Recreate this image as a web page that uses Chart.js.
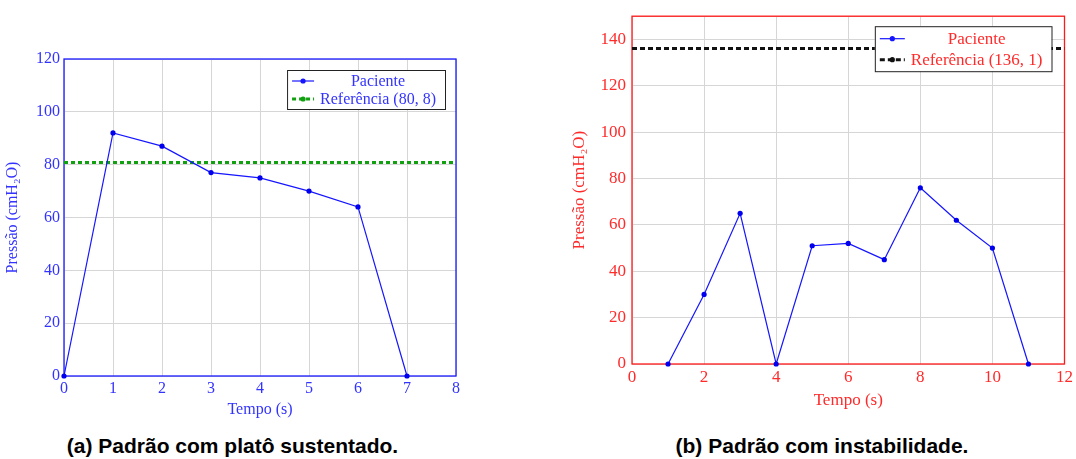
<!DOCTYPE html>
<html>
<head>
<meta charset="utf-8">
<script src="https://cdn.jsdelivr.net/npm/chart.js@4"></script>
<style>
  body { margin: 0; background: #fff; width: 1076px; height: 459px; position: relative; overflow: hidden; }
  .box { position: absolute; top: 0; }
  .cap { position: absolute; top: 434px; height: 24px; line-height: 24px; text-align: center;
         font: bold 21px "Liberation Sans", Arial, sans-serif; color: #000; }
</style>
</head>
<body>
<div class="box" style="left:0"><canvas id="chartA" width="475" height="430"></canvas></div>
<div class="box" style="left:560px"><canvas id="chartB" width="516" height="430"></canvas></div>
<div class="cap" style="left:0;width:465px">(a) Padrão com platô sustentado.</div>
<div class="cap" style="left:562px;width:520px">(b) Padrão com instabilidade.</div>
<script>
// (a) platô sustentado
const tempoA = [0, 1, 2, 3, 4, 5, 6, 7];
const pressaoA = [0, 92, 87, 77, 75, 70, 64, 0];
const refA = 80.8;
const refLabelA = 'Referência (80, 8)';
const eixoXA = [0, 8];     // min, max
const eixoYA = [0, 120];

// (b) instabilidade
const tempoB = [1, 2, 3, 4, 5, 6, 7, 8, 9, 10, 11];
const pressaoB = [0, 30, 65, 0, 51, 52, 45, 76, 62, 50, 0];
const refB = 136.1;
const refLabelB = 'Referência (136, 1)';
const eixoXB = [0, 12];
const eixoYB = [0, 150];

const serieLabel = 'Paciente';
const tituloX = 'Tempo (s)';
const tituloY = 'Pressão (cmH₂O)';

const SERIF = '"Liberation Serif", "Times New Roman", serif';

// moldura completa em volta da área do gráfico (como no pgfplots)
const framePlugin = {
  id: 'frame',
  beforeDatasetsDraw(chart, args, opts) {
    const a = chart.chartArea, ctx = chart.ctx;
    ctx.save();
    ctx.strokeStyle = opts.color;
    ctx.lineWidth = 1.3;
    ctx.strokeRect(a.left, a.top, a.right - a.left, a.bottom - a.top);
    ctx.restore();
  }
};

// legenda em caixa branca no canto superior direito
const boxLegendPlugin = {
  id: 'boxLegend',
  afterDatasetsDraw(chart, args, o) {
    const ctx = chart.ctx, a = chart.chartArea;
    const ds = chart.data.datasets;
    ctx.save();
    ctx.font = o.fontSize + 'px ' + SERIF;
    const textW = Math.max(...ds.map(d => ctx.measureText(d.label).width));
    const sample = o.sample;
    const w = 5 + sample + o.gap + textW + 9;
    const h = ds.length * o.rowH + 3;
    const x = a.right - o.right - w, y = a.top + o.top;
    ctx.fillStyle = '#fff';
    ctx.fillRect(x, y, w, h);
    ctx.strokeStyle = '#222';
    ctx.lineWidth = 1;
    ctx.strokeRect(x + 0.5, y + 0.5, w, h);
    ds.forEach((d, i) => {
      const cy = y + 2 + o.rowH * (i + 0.5);
      ctx.strokeStyle = d.borderColor;
      ctx.lineWidth = d.borderWidth;
      ctx.setLineDash(d.borderDash || []);
      ctx.beginPath();
      ctx.moveTo(x + 5, cy);
      ctx.lineTo(x + 5 + sample, cy);
      ctx.stroke();
      ctx.setLineDash([]);
      ctx.fillStyle = d.borderColor;
      ctx.beginPath();
      ctx.arc(x + 5 + sample / 2, cy, 2.6, 0, Math.PI * 2);
      ctx.fill();
      const tx0 = x + 5 + sample + o.gap, tx1 = x + w - 9;
      ctx.fillStyle = o.color;
      ctx.textAlign = 'center';
      ctx.textBaseline = 'middle';
      ctx.fillText(d.label, (tx0 + tx1) / 2, cy + 1);
    });
    ctx.restore();
  }
};

function makeChart(id, cfg) {
  const pts = cfg.x.map((x, i) => ({ x, y: cfg.y[i] }));
  const refPts = [{ x: cfg.xr[0], y: cfg.ref }, { x: cfg.xr[1], y: cfg.ref }];
  const font = { family: SERIF, size: cfg.fs };
  return new Chart(document.getElementById(id), {
    type: 'line',
    data: {
      datasets: [
        {
          label: serieLabel, data: pts,
          borderColor: '#1515ff', backgroundColor: '#0000ee',
          borderWidth: 1.2, pointRadius: 2.6, pointBorderWidth: 0, tension: 0,
          clip: false,
        },
        {
          label: cfg.refLabel, data: refPts,
          borderColor: cfg.refColor, borderWidth: 3, borderDash: cfg.dash,
          pointRadius: 0, fill: false,
        },
      ],
    },
    options: {
      responsive: false,
      animation: false,
      devicePixelRatio: 1,
      layout: { padding: cfg.pad },
      plugins: {
        legend: { display: false },
        tooltip: { enabled: false },
        frame: { color: cfg.frame },
        boxLegend: cfg.legend,
      },
      scales: {
        x: {
          type: 'linear', min: cfg.xr[0], max: cfg.xr[1],
          afterFit: s => { s.height = cfg.xh; },
          border: { display: false },
          grid: { color: '#d6d6d6', drawTicks: false },
          ticks: { stepSize: cfg.xStep, color: cfg.color, font, padding: 3, maxRotation: 0 },
          title: { display: true, text: tituloX, color: cfg.color, font, padding: { top: 0, bottom: cfg.xtPad } },
        },
        y: {
          type: 'linear', min: cfg.yr[0], max: cfg.yr[1],
          afterFit: s => { s.width = cfg.yw; },
          border: { display: false },
          grid: { color: '#d6d6d6', drawTicks: false },
          ticks: {
            stepSize: 20, color: cfg.color, font, padding: cfg.ytickPad,
            callback: v => (v % 20 === 0 ? v : ''),
          },
          title: { display: true, text: tituloY, color: cfg.color, font, padding: { top: cfg.ytPad, bottom: 0 } },
        },
      },
    },
    plugins: [framePlugin, boxLegendPlugin],
  });
}

makeChart('chartA', {
  x: tempoA, y: pressaoA, ref: refA, refLabel: refLabelA, xr: eixoXA, yr: eixoYA,
  xStep: 1, fs: 16, color: '#3333ff', frame: '#1a1aff',
  refColor: '#10a010', dash: [4, 3],
  pad: { top: 59, right: 19, bottom: 0, left: 0 }, xh: 54, yw: 64,
  xtPad: 11, ytPad: 3, ytickPad: 4,
  legend: { fontSize: 16, color: '#3333ff', sample: 22, gap: 6, rowH: 18, right: 11, top: 11 },
});

makeChart('chartB', {
  x: tempoB, y: pressaoB, ref: refB, refLabel: refLabelB, xr: eixoXB, yr: eixoYB,
  xStep: 2, fs: 17, color: '#ff2a2a', frame: '#ff1a1a',
  refColor: '#111', dash: [5, 3],
  pad: { top: 15, right: 10, bottom: 0, left: 0 }, xh: 66, yw: 72,
  xtPad: 19, ytPad: 9, ytickPad: 6,
  legend: { fontSize: 17, color: '#ff2a2a', sample: 25, gap: 6, rowH: 21, right: 13, top: 10 },
});
</script>
</body>
</html>
